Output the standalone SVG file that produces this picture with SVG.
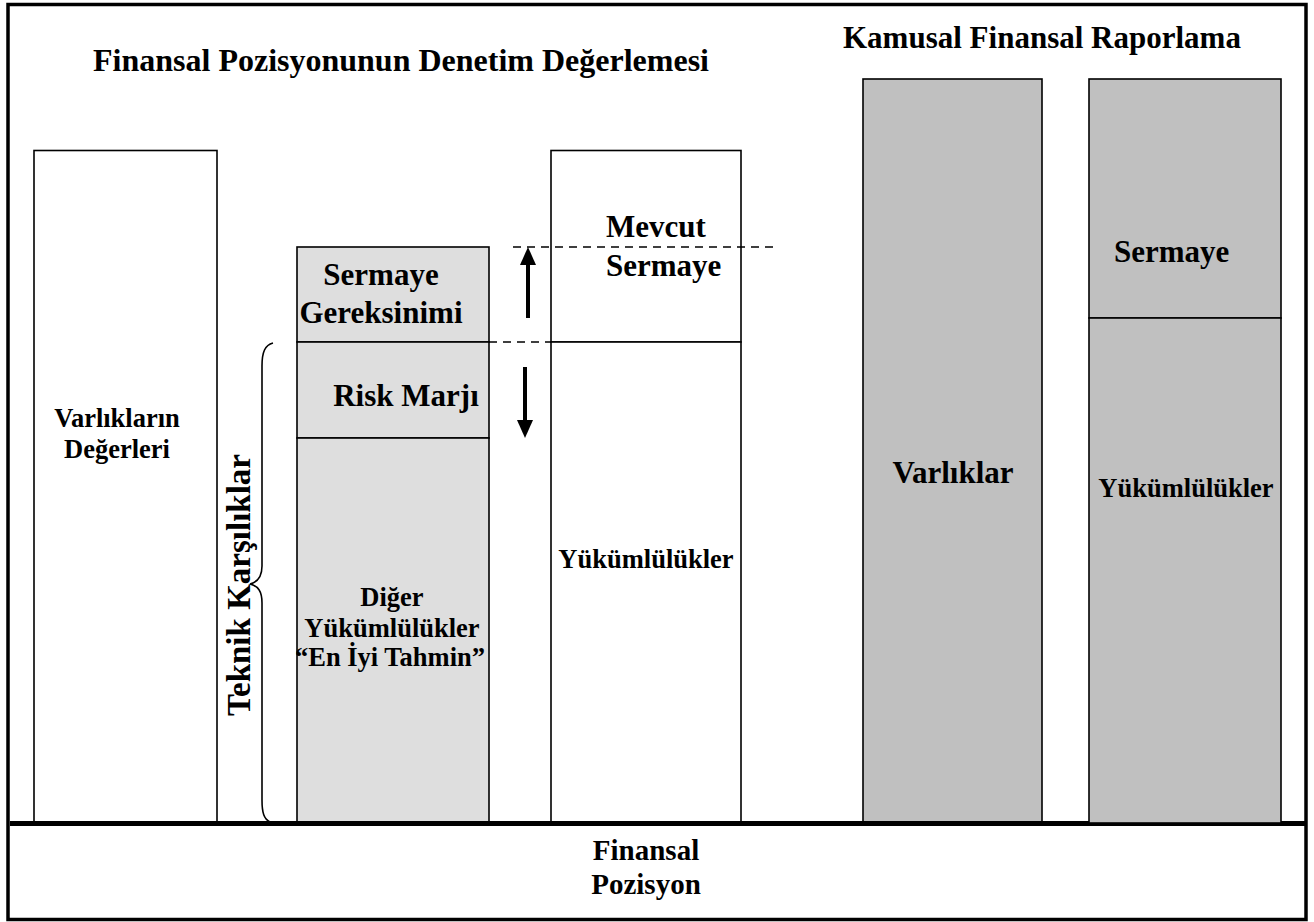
<svg xmlns="http://www.w3.org/2000/svg" width="1314" height="922" viewBox="0 0 1314 922">
  <defs>
    <style>
      .t { font-family: "Liberation Serif", "Times New Roman", serif; font-weight: bold; fill: #000; }
      .h { font-size: 31px; }
      .m { font-size: 26.5px; }
      .box { stroke: #000; stroke-width: 1.6; }
      .white { fill: #fff; }
      .light { fill: #dedede; }
      .grey { fill: #c0c0c0; }
      .div { stroke: #000; stroke-width: 2; fill: none; }
      .dash { stroke: #000; stroke-width: 1.6; stroke-dasharray: 8 6; fill: none; }
      .arrow { stroke: #000; stroke-width: 4; fill: none; }
    </style>
  </defs>

  <!-- frame -->
  <rect x="0" y="0" width="1314" height="922" fill="#fff"/>
  <rect x="8" y="4.5" width="1298" height="915" fill="none" stroke="#000" stroke-width="3.5"/>

  <!-- headings -->
  <text class="t" font-size="32" x="93" y="71">Finansal Pozisyonunun Denetim Değerlemesi</text>
  <text class="t h" x="843" y="48">Kamusal Finansal Raporlama</text>

  <!-- asset values column -->
  <g id="varliklarin-degerleri">
    <rect class="box white" x="34" y="150.5" width="183" height="673"/>
    <text class="t m" text-anchor="middle" x="117" y="427">Varlıkların</text>
    <text class="t m" text-anchor="middle" x="117" y="458">Değerleri</text>
  </g>

  <!-- solvency requirement stack -->
  <g id="sermaye-gereksinimi">
    <rect class="box light" x="297" y="247" width="192" height="95"/>
    <text class="t h" text-anchor="middle" x="381" y="285">Sermaye</text>
    <text class="t h" text-anchor="middle" x="381" y="323">Gereksinimi</text>
  </g>
  <g id="risk-marji">
    <rect class="box light" x="297" y="342" width="192" height="96"/>
    <text class="t h" text-anchor="middle" x="406" y="406">Risk Marjı</text>
  </g>
  <g id="en-iyi-tahmin">
    <rect class="box light" x="297" y="438" width="192" height="385"/>
    <text class="t m" text-anchor="middle" x="392" y="606">Diğer</text>
    <text class="t m" text-anchor="middle" x="392" y="637">Yükümlülükler</text>
    <text class="t m" text-anchor="middle" x="390" y="666">“En İyi Tahmin”</text>
  </g>

  <!-- available capital / liabilities column -->
  <g id="mevcut-sermaye">
    <rect class="box white" x="551" y="150.5" width="190" height="191.5"/>
    <text class="t h" x="606" y="237">Mevcut</text>
    <text class="t h" x="606" y="276">Sermaye</text>
  </g>
  <g id="yukumlulukler">
    <rect class="box white" x="551" y="342" width="190" height="481"/>
    <text class="t m" text-anchor="middle" x="646" y="568">Yükümlülükler</text>
  </g>

  <!-- public financial reporting -->
  <g id="varliklar">
    <rect class="box grey" x="863" y="79" width="179" height="744"/>
    <text class="t h" text-anchor="middle" x="953" y="483">Varlıklar</text>
  </g>

  <!-- technical provisions label with brace -->
  <g id="teknik-karsiliklar">
    <path d="M273,343 C265,345 262,352 262,366 L262,566 C262,577 258,582 250,584 C258,586 262,591 262,603 L262,800 C262,813 264,819 270,822" fill="none" stroke="#000" stroke-width="1.6"/>
    <text class="t" font-size="33" text-anchor="middle" transform="translate(250,585) rotate(-90)">Teknik Karşılıklar</text>
  </g>

  <!-- connectors: level markers and direction arrows -->
  <g id="connectors">
    <line class="dash" x1="513" y1="247" x2="777" y2="247"/>
    <line class="dash" x1="489" y1="342" x2="551" y2="342"/>
    <line class="arrow" x1="528" y1="318" x2="528" y2="262"/>
    <polygon points="528,247 520,265 536,265" fill="#000"/>
    <line class="arrow" x1="525" y1="367" x2="525" y2="423"/>
    <polygon points="525,438 517,420 533,420" fill="#000"/>
  </g>

  <!-- financial position baseline -->
  <line x1="10" y1="823.4" x2="1305" y2="823.4" stroke="#000" stroke-width="5"/>

  <g id="sermaye">
    <rect class="box grey" x="1089" y="79" width="192" height="239"/>
    <text class="t h" x="1114" y="262">Sermaye</text>
  </g>
  <g id="yukumlulukler-kamusal">
    <rect class="box grey" x="1089" y="318" width="192" height="505"/>
    <text class="t m" text-anchor="middle" x="1186" y="497">Yükümlülükler</text>
  </g>

  <g id="finansal-pozisyon">
    <text class="t" font-size="29" text-anchor="middle" x="646" y="860">Finansal</text>
    <text class="t" font-size="29" text-anchor="middle" x="646" y="894">Pozisyon</text>
  </g>
</svg>
